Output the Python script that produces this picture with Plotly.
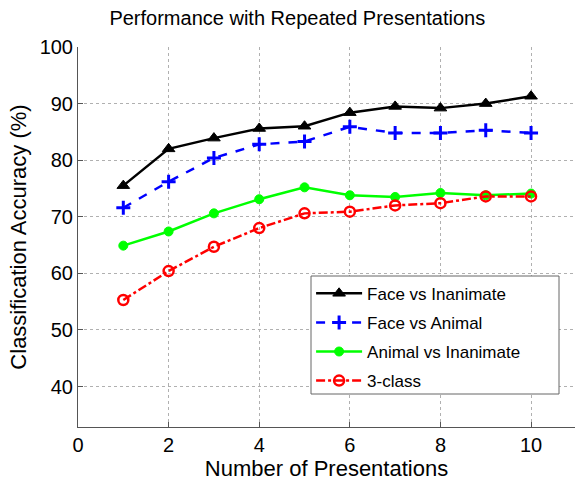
import plotly.graph_objects as go

x = [1, 2, 3, 4, 5, 6, 7, 8, 9, 10]
face_inanimate = [75.5, 82.0, 83.9, 85.6, 86.0, 88.4, 89.5, 89.2, 90.0, 91.3]
face_animal = [71.6, 76.2, 80.4, 82.8, 83.3, 85.9, 84.8, 84.8, 85.3, 84.8]
animal_inanimate = [64.9, 67.4, 70.6, 73.1, 75.2, 73.8, 73.5, 74.2, 73.8, 74.1]
three_class = [55.3, 60.4, 64.7, 68.0, 70.6, 70.9, 72.0, 72.4, 73.6, 73.6]

FONT = "Liberation Sans, Arial, sans-serif"

fig = go.Figure()
fig.add_trace(go.Scatter(
    x=x, y=face_inanimate, name="Face vs Inanimate", mode="lines+markers",
    legendgroup="a",
    line=dict(color="black", width=2.5),
    marker=dict(symbol="triangle-up", size=11, color="black",
                line=dict(color="black", width=1))))
fig.add_trace(go.Scatter(
    x=x, y=face_animal, name="Face vs Animal", mode="lines+markers",
    legendgroup="b",
    line=dict(color="#0000ff", width=2.5, dash="dash"),
    marker=dict(symbol="cross-thin", size=10, color="#0000ff",
                line=dict(color="#0000ff", width=3))))
fig.add_trace(go.Scatter(
    x=x, y=animal_inanimate, name="Animal vs Inanimate", mode="lines+markers",
    legendgroup="c",
    line=dict(color="#00ff00", width=2.5),
    marker=dict(symbol="circle", size=9, color="#00ff00",
                line=dict(color="#00ff00", width=1))))
fig.add_trace(go.Scatter(
    x=x, y=three_class, name="3-class", mode="lines+markers",
    legendgroup="d",
    line=dict(color="#ff0000", width=2.5, dash="dashdot"),
    marker=dict(symbol="circle-open", size=10, color="#ff0000",
                line=dict(color="#ff0000", width=2.5))))

axis_common = dict(
    showline=True, linecolor="#555", linewidth=1, mirror=False,
    showgrid=True, gridcolor="#b0b0b0", griddash="dot", gridwidth=1,
    ticks="inside", ticklen=5, tickcolor="#555",
    tickfont=dict(family=FONT, size=20, color="black"),
    zeroline=False,
)

fig.update_layout(
    width=575, height=485,
    paper_bgcolor="white", plot_bgcolor="white",
    margin=dict(l=78, r=0, t=47, b=58),
    title=dict(text="Performance with Repeated Presentations",
               font=dict(family=FONT, size=20, color="black"),
               x=0.517, xanchor="center", y=0.963, yanchor="middle"),
    xaxis=dict(axis_common, range=[0, 10.97], tickvals=[0, 2, 4, 6, 8, 10],
               title=dict(text="Number of Presentations",
                          font=dict(family=FONT, size=22, color="black"),
                          standoff=2)),
    yaxis=dict(axis_common, range=[32.85, 100],
               tickvals=[40, 50, 60, 70, 80, 90, 100],
               title=dict(text="Classification Accuracy (%)",
                          font=dict(family=FONT, size=22, color="black"),
                          standoff=6)),
    legend=dict(x=0.469, y=0.398, xanchor="left", yanchor="top",
                bgcolor="rgba(0,0,0,0)", borderwidth=0,
                font=dict(family=FONT, size=17, color="black"),
                tracegroupgap=4, itemwidth=46),
    shapes=[dict(type="rect", xref="paper", yref="paper",
                 x0=(311 - 78) / 497, x1=(559 - 78) / 497,
                 y0=(427 - 394) / 380, y1=(427 - 276) / 380,
                 fillcolor="white", line=dict(color="#666", width=1),
                 layer="above")],
    showlegend=True,
)

fig.write_html("out.html")
